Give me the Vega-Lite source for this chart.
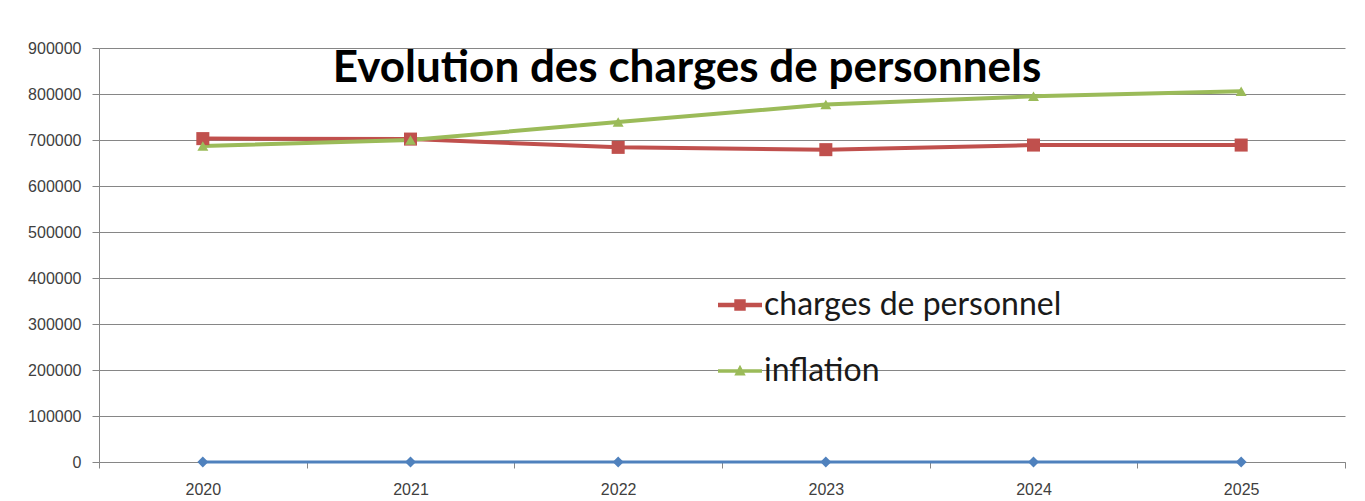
{
  "$schema": "https://vega.github.io/schema/vega-lite/v6.json",
  "width": 1246,
  "height": 414,
  "autosize": "none",
  "padding": {"left": 99, "top": 48, "right": 20, "bottom": 39},
  "background": "white",
  "title": {
    "text": "Evolution des charges de personnels",
    "anchor": "middle",
    "frame": "group",
    "orient": "top",
    "offset": 0,
    "baseline": "alphabetic",
    "dy": 86,
    "dx": -35,
    "font": "Lato",
    "fontSize": 44,
    "fontWeight": "bold",
    "color": "#000000"
  },
  "data": {
    "values": [
      {"year": "2020", "series": "charges de personnel", "value": 703000},
      {"year": "2021", "series": "charges de personnel", "value": 702000},
      {"year": "2022", "series": "charges de personnel", "value": 684000},
      {"year": "2023", "series": "charges de personnel", "value": 679000},
      {"year": "2024", "series": "charges de personnel", "value": 689000},
      {"year": "2025", "series": "charges de personnel", "value": 689000},
      {"year": "2020", "series": "inflation", "value": 687000},
      {"year": "2021", "series": "inflation", "value": 700000},
      {"year": "2022", "series": "inflation", "value": 739000},
      {"year": "2023", "series": "inflation", "value": 777000},
      {"year": "2024", "series": "inflation", "value": 795000},
      {"year": "2025", "series": "inflation", "value": 806000},
      {"year": "2020", "series": "Série 1", "value": 0},
      {"year": "2021", "series": "Série 1", "value": 0},
      {"year": "2022", "series": "Série 1", "value": 0},
      {"year": "2023", "series": "Série 1", "value": 0},
      {"year": "2024", "series": "Série 1", "value": 0},
      {"year": "2025", "series": "Série 1", "value": 0}
    ]
  },
  "encoding": {
    "x": {
      "field": "year",
      "type": "nominal",
      "sort": null,
      "scale": {"type": "band", "paddingInner": 0, "paddingOuter": 0},
      "axis": {
        "title": null,
        "labelAngle": 0,
        "grid": false,
        "tickBand": "extent",
        "tickSize": 6,
        "labelPadding": 13,
        "domainColor": "#868686",
        "tickColor": "#868686",
        "labelColor": "#404040",
        "labelFont": "Liberation Sans",
        "labelFontSize": 16
      }
    },
    "y": {
      "field": "value",
      "type": "quantitative",
      "scale": {"domain": [0, 900000], "nice": false},
      "axis": {
        "title": null,
        "values": [0, 100000, 200000, 300000, 400000, 500000, 600000, 700000, 800000, 900000],
        "format": "d",
        "grid": true,
        "gridColor": "#868686",
        "gridWidth": 1,
        "tickSize": 7,
        "labelPadding": 11,
        "domainColor": "#868686",
        "tickColor": "#868686",
        "labelColor": "#404040",
        "labelFont": "Liberation Sans",
        "labelFontSize": 16
      }
    }
  },
  "layer": [
    {
      "transform": [{"filter": "datum.series !== 'Série 1'"}],
      "mark": {"type": "line", "strokeWidth": 4},
      "encoding": {
        "color": {
          "field": "series",
          "type": "nominal",
          "scale": {"domain": ["charges de personnel", "inflation"], "range": ["#C0504D", "#9BBB59"]},
          "legend": {
            "title": null,
            "orient": "none",
            "legendX": 619,
            "legendY": 235,
            "direction": "vertical",
            "symbolSize": 1936,
            "rowPadding": 28,
            "labelOffset": 2,
            "labelLimit": 0,
            "labelFont": "Lato",
            "labelFontSize": 32,
            "labelColor": "#1a1a1a",
            "padding": 0,
            "encode": {
              "symbols": {
                "update": {
                  "shape": {"signal": "datum.value === 'inflation' ? 'M-1,-0.08H1V0.08H-1Z M0,-0.28L0.26,0.2H-0.26Z' : 'M-1,-0.1H1V0.1H-1Z M-0.26,-0.26H0.26V0.26H-0.26Z'"},
                  "fill": {"signal": "datum.value === 'inflation' ? '#9BBB59' : '#C0504D'"},
                  "stroke": {"value": "transparent"},
                  "strokeWidth": {"value": 0}
                }
              }
            }
          }
        }
      }
    },
    {
      "transform": [{"filter": "datum.series === 'charges de personnel'"}],
      "mark": {"type": "point", "shape": "square", "filled": true, "opacity": 1, "size": 170, "color": "#C0504D"}
    },
    {
      "transform": [{"filter": "datum.series === 'inflation'"}],
      "mark": {"type": "point", "shape": "triangle-up", "filled": true, "opacity": 1, "size": 120, "color": "#9BBB59"}
    },
    {
      "transform": [{"filter": "datum.series === 'Série 1'"}],
      "mark": {"type": "line", "strokeWidth": 3, "color": "#4F81BD"}
    },
    {
      "transform": [{"filter": "datum.series === 'Série 1'"}],
      "mark": {"type": "point", "shape": "diamond", "filled": true, "opacity": 1, "size": 120, "color": "#4F81BD"}
    }
  ],
  "config": {
    "view": {"stroke": null}
  }
}
